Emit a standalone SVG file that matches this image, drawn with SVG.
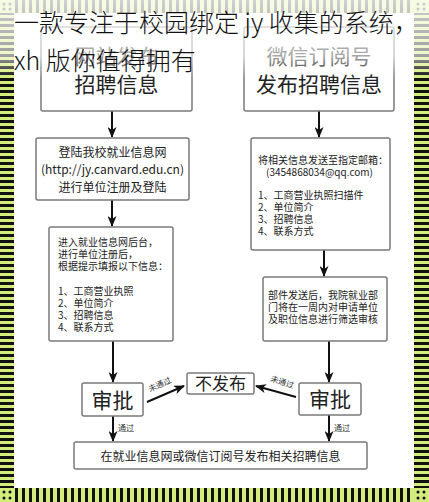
<svg xmlns="http://www.w3.org/2000/svg" width="429" height="502" viewBox="0 0 429 502">
<defs>
<style>
.box{fill:#fff;stroke:#7a7a7a;stroke-width:1.5}
.t{font-family:"Noto Sans CJK SC","Noto Sans",sans-serif;fill:#222}
.s{font-size:10px}
.m{font-size:12px}
.b{font-size:21px}
.lbl{font-family:"Noto Sans CJK SC",sans-serif;font-size:8px;fill:#333}
.ar{stroke:#111;stroke-width:2;fill:none;marker-end:url(#ah)}
.title{font-family:"Noto Sans CJK SC","Noto Sans",sans-serif;font-size:25px;font-weight:300;fill:#111}
</style>
<pattern id="hs" width="14" height="6" patternUnits="userSpaceOnUse">
<rect width="14" height="6" fill="#d3ec7c"/><rect y="0" width="14" height="3" fill="#111"/>
</pattern>
<pattern id="vs" width="7" height="14" patternUnits="userSpaceOnUse">
<rect width="7" height="14" fill="#d3ec7c"/><rect x="1" width="3" height="14" fill="#111"/>
</pattern>
<marker id="ah" markerWidth="11" markerHeight="9" refX="10" refY="4.5" orient="auto" markerUnits="userSpaceOnUse">
<path d="M0,0 L11,4.5 L0,9 L3,4.5 z" fill="#111"/>
</marker>
<linearGradient id="fade" x1="0" y1="0" x2="0" y2="1">
<stop offset="0" stop-color="#fff" stop-opacity="0.8"/>
<stop offset="0.72" stop-color="#fff" stop-opacity="0.6"/>
<stop offset="1" stop-color="#fff" stop-opacity="0"/>
</linearGradient>
</defs>
<rect width="429" height="502" fill="#fff"/>
<g id="border">
<rect x="0" y="13" width="14" height="475" fill="url(#hs)"/>
<rect x="414" y="13" width="15" height="475" fill="url(#hs)"/>
<rect x="14" y="0" width="400" height="13" fill="url(#vs)"/>
<rect x="14" y="488" width="400" height="14" fill="url(#vs)"/>
<g fill="#d3ec7c">
<rect x="0" y="0" width="14" height="13"/><rect x="414" y="0" width="15" height="13"/>
<rect x="0" y="488" width="14" height="14"/><rect x="414" y="488" width="15" height="14"/>
</g>
<g fill="#111">
<circle cx="4" cy="4" r="1.5"/><circle cx="10" cy="4" r="1.5"/><circle cx="4" cy="9" r="1.5"/><circle cx="10" cy="9" r="1.5"/>
<circle cx="418" cy="4" r="1.5"/><circle cx="424" cy="4" r="1.5"/><circle cx="418" cy="9" r="1.5"/><circle cx="424" cy="9" r="1.5"/>
<circle cx="4" cy="492" r="1.5"/><circle cx="10" cy="492" r="1.5"/><circle cx="4" cy="498" r="1.5"/><circle cx="10" cy="498" r="1.5"/>
<circle cx="418" cy="492" r="1.5"/><circle cx="424" cy="492" r="1.5"/><circle cx="418" cy="498" r="1.5"/><circle cx="424" cy="498" r="1.5"/>
</g>
</g>
<g id="connectors">
<line class="ar" x1="112" y1="111" x2="112" y2="137"/>
<line class="ar" x1="319" y1="111" x2="319" y2="137"/>
<line class="ar" x1="112" y1="200" x2="112" y2="226"/>
<line class="ar" x1="324" y1="250" x2="324" y2="276"/>
<line class="ar" x1="113" y1="341" x2="113" y2="382"/>
<line class="ar" x1="329" y1="341" x2="329" y2="382"/>
<line class="ar" x1="113" y1="416" x2="113" y2="441"/>
<line class="ar" x1="329" y1="415" x2="329" y2="441"/>
<line class="ar" x1="147" y1="402" x2="184" y2="386"/>
<line class="ar" x1="296" y1="397" x2="256" y2="386"/>
<text class="lbl" x="118" y="431">通过</text>
<text class="lbl" x="334" y="431">通过</text>
<text class="lbl" transform="translate(150,392) rotate(-24)">未通过</text>
<text class="lbl" transform="translate(270,381) rotate(18)">未通过</text>
</g>
<g id="n1">
<rect class="box" x="41" y="27" width="151" height="84" rx="2"/>
<text class="t b" x="116.5" y="64" text-anchor="middle">网站发布</text>
<text class="t b" x="116.5" y="92" text-anchor="middle">招聘信息</text>
</g>
<g id="n2">
<rect class="box" x="244" y="27" width="150" height="84" rx="2"/>
<text class="t b" x="319" y="64" text-anchor="middle">微信订阅号</text>
<text class="t b" x="319" y="92" text-anchor="middle">发布招聘信息</text>
</g>
<g id="n3">
<rect class="box" x="36" y="138" width="153" height="62" rx="2"/>
<text class="t m" x="112.5" y="157" text-anchor="middle">登陆我校就业信息网</text>
<text class="t m" x="112.5" y="174" text-anchor="middle">(http://jy.canvard.edu.cn)</text>
<text class="t m" x="112.5" y="192" text-anchor="middle">进行单位注册及登陆</text>
</g>
<g id="n4">
<rect class="box" x="49" y="227" width="124" height="114" rx="2"/>
<text class="t s" x="58" y="246">进入就业信息网后台，</text>
<text class="t s" x="58" y="258">进行单位注册后，</text>
<text class="t s" x="58" y="270">根据提示填报以下信息：</text>
<text class="t s" x="58" y="295">1、工商营业执照</text>
<text class="t s" x="58" y="307">2、单位简介</text>
<text class="t s" x="58" y="319">3、招聘信息</text>
<text class="t s" x="58" y="331">4、联系方式</text>
</g>
<g id="n5">
<rect class="box" x="251" y="138" width="139" height="112" rx="2"/>
<text class="t s" x="258" y="164">将相关信息发送至指定邮箱：</text>
<text class="t s" x="266" y="176">(3454868034@qq.com)</text>
<text class="t s" x="258" y="199">1、工商营业执照扫描件</text>
<text class="t s" x="258" y="211">2、单位简介</text>
<text class="t s" x="258" y="223">3、招聘信息</text>
<text class="t s" x="258" y="235">4、联系方式</text>
</g>
<g id="n6">
<rect class="box" x="263" y="277" width="124" height="64" rx="2"/>
<text class="t s" x="268" y="299">部件发送后，我院就业部</text>
<text class="t s" x="268" y="311">门将在一周内对申请单位</text>
<text class="t s" x="268" y="323">及职位信息进行筛选审核</text>
</g>
<g id="n7">
<rect class="box" x="82" y="383" width="61" height="33" rx="2"/>
<text class="t" x="112.5" y="407.5" font-size="21" text-anchor="middle">审批</text>
</g>
<g id="n8">
<rect class="box" x="299" y="383" width="62" height="32" rx="2"/>
<text class="t" x="330" y="407" font-size="21" text-anchor="middle">审批</text>
</g>
<g id="n9">
<rect class="box" x="187" y="373" width="67" height="21" rx="2"/>
<text class="t" x="220.5" y="390" font-size="17" text-anchor="middle">不发布</text>
</g>
<g id="n10">
<rect class="box" x="74" y="442" width="293" height="27" rx="2"/>
<text class="t m" x="220.5" y="461" text-anchor="middle">在就业信息网或微信订阅号发布相关招聘信息</text>
</g>
<rect x="0" y="0" width="429" height="78" fill="url(#fade)"/>
<g id="title">
<text class="title" x="14" y="32">一款专注于校园绑定 jy 收集的系统，</text>
<text class="title" x="14" y="70">xh 版你值得拥有</text>
</g>
</svg>
